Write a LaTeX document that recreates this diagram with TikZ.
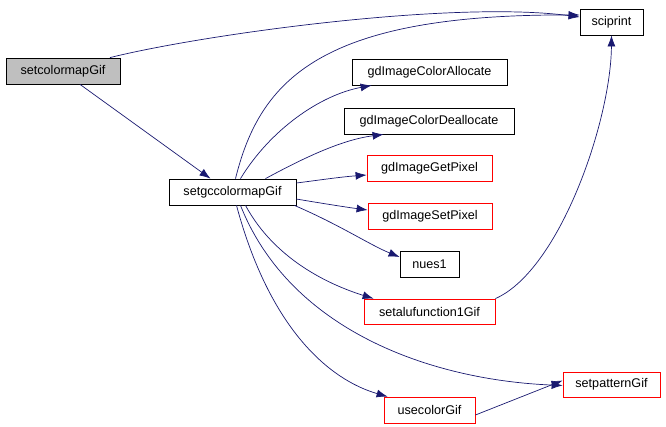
\documentclass[tikz,border=0pt]{standalone}
\usepackage{fontspec}
\setmainfont{Liberation Sans}
\usetikzlibrary{arrows.meta}
\definecolor{edgeblue}{HTML}{191970}
\definecolor{nodegray}{HTML}{BFBFBF}
\tikzset{
  fn/.style={draw=black, rectangle, inner sep=0pt, minimum height=26pt, line width=0.8pt,
    font=\fontsize{12.6}{14}\selectfont},
  fnred/.style={fn, draw=red},
  call/.style={draw=edgeblue, line width=0.7pt, -{Latex[length=11pt,width=8pt]}},
}
\begin{document}
\begin{tikzpicture}[x=1pt,y=-1pt]
\useasboundingbox (0,0) rectangle (666,426);
\node[fn, fill=nodegray, minimum width=114pt] (cm) at (63,71) {setcolormapGif};
\node[fn, minimum width=127pt] (gc) at (232.5,192) {setgccolormapGif};
\node[fn, minimum width=63pt] (sp) at (611.5,22) {sciprint};
\node[fn, minimum width=155pt] (al) at (429.5,72) {gdImageColorAllocate};
\node[fn, minimum width=170pt] (de) at (429,121) {gdImageColorDeallocate};
\node[fnred, minimum width=125pt] (gp) at (429.5,168) {gdImageGetPixel};
\node[fnred, minimum width=124pt] (sx) at (430,216) {gdImageSetPixel};
\node[fn, minimum width=59pt] (nu) at (429.5,264) {nues1};
\node[fnred, minimum width=131pt, minimum height=25pt] (sa) at (429.5,311.5) {setalufunction1Gif};
\node[fnred, minimum width=97pt, minimum height=25pt] (pt) at (611.5,384.5) {setpatternGif};
\node[fnred, minimum width=91pt] (uc) at (429.5,410) {usecolorGif};

\draw[call] ([xshift=47pt]cm.north) .. controls (200,35) and (450,0) .. ([yshift=5pt]sp.west);
\draw[call] ([xshift=17pt]cm.south) -- ([xshift=-22pt]gc.north);
\draw[call] ([xshift=3pt]gc.north) .. controls (260,80) and (320,14) .. ([yshift=7pt]sp.west);
\draw[call] ([xshift=8pt]gc.north) .. controls (270,130) and (320,95) .. ([xshift=20pt]al.south west);
\draw[call] ([xshift=33pt]gc.north) .. controls (300,160) and (340,140) .. ([xshift=40pt]de.south west);
\draw[call] ([yshift=9pt]gc.east) .. controls (320,180) and (340,177) .. ([yshift=-7pt]gp.west);
\draw[call] ([yshift=-7pt]gc.east) .. controls (320,203) and (345,207) .. ([yshift=6pt]sx.west);
\draw[call] ([xshift=-2pt]gc.south east) .. controls (340,225) and (370,245) .. ([yshift=7pt]nu.west);
\draw[call] ([xshift=13pt]gc.south) .. controls (275,260) and (330,285) .. ([xshift=10pt]sa.north west);
\draw[call] ([xshift=8pt]gc.south) .. controls (290,330) and (430,380) .. ([yshift=-1pt]pt.west);
\draw[call] ([xshift=4pt]gc.south) .. controls (270,330) and (330,380) .. ([xshift=4pt]uc.north west);
\draw[call] (sa.north east) .. controls (560,270) and (611,120) .. (sp.south);
\draw[call] ([yshift=-5pt]uc.east) -- ([yshift=4pt]pt.west);
\end{tikzpicture}
\end{document}
